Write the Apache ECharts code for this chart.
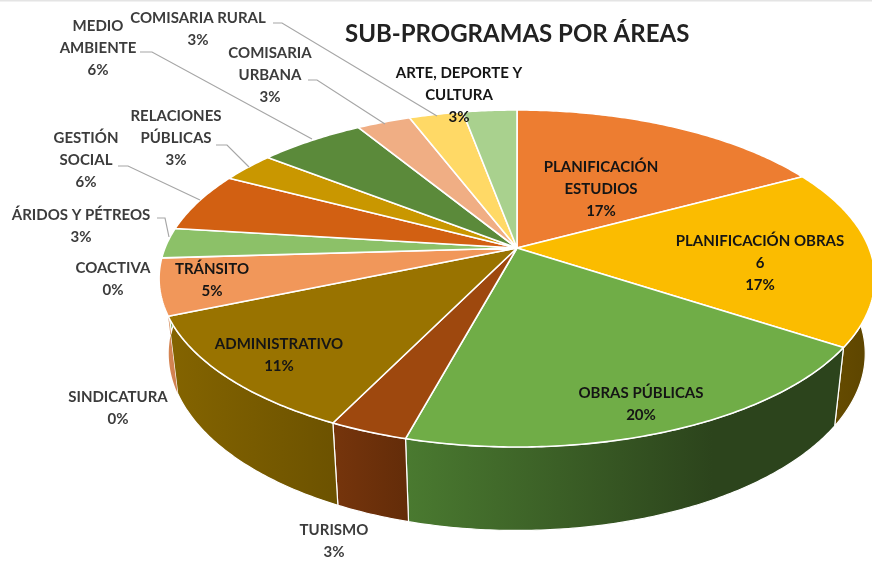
<!DOCTYPE html>
<html>
<head>
<meta charset="utf-8">
<style>html,body{margin:0;padding:0;background:#fff}#c{width:872px;height:566px}</style>
<script src="https://cdn.jsdelivr.net/npm/echarts@6/dist/echarts.min.js"></script>
</head>
<body>
<div id="c"></div>
<script>
const categories = ['PLANIFICACIÓN\nESTUDIOS','PLANIFICACIÓN OBRAS\n6','OBRAS PÚBLICAS','TURISMO','ADMINISTRATIVO','SINDICATURA','COACTIVA','TRÁNSITO','ÁRIDOS Y PÉTREOS','GESTIÓN\nSOCIAL','RELACIONES\nPÚBLICAS','MEDIO\nAMBIENTE','COMISARIA\nURBANA','COMISARIA RURAL','ARTE, DEPORTE Y\nCULTURA'];
const values = [17.1,17.1,19.9,3,11.4,0,0,5.4,2.9,5.7,2.9,5.7,2.9,2.9,2.9];

const faceColors = ['#ED7D31','#FBBC00','#70AD47','#9E480E','#997300','#A5A5A5','#5B9BD5','#F1975A','#8CC168','#D26012','#C99700','#5B8A3A','#F0AE84','#FFD966','#A9D18E'];
const wallColors = [['#8a4a1c','#8a4a1c'],['#6e5200','#5c4400'],['#4a7a30','#2c441c'],['#76350c','#632c09'],['#846400','#6c5200'],['#777','#777'],['#456','#456'],['#da8a55','#d08050'],['#6a9a4c','#6a9a4c'],['#a04a0e','#a04a0e'],['#9a7400','#9a7400'],['#43682b','#43682b'],['#b88560','#b88560'],['#c0a44e','#c0a44e'],['#80a06c','#80a06c']];
// label anchor (centre x, first-line centre y) and optional leader line
const labelLayout = [
 {x:601,y:167,dark:1},{x:760,y:241,dark:1},{x:641,y:393,dark:1},{x:334,y:530},{x:279,y:344,dark:1},
 {x:118,y:397},{x:113,y:268},{x:212,y:269,dark:1},
 {x:81,y:215,line:[[157,218],[165,218],[169,237]]},
 {x:86,y:138,line:[[118,166],[128,166],[200,200]]},
 {x:176,y:116,line:[[216,145],[227,145],[249,167]]},
 {x:98,y:26,line:[[140,52],[152,52],[312,139]]},
 {x:270,y:53,line:[[308,80],[317,80],[385,124]]},
 {x:198,y:18,line:[[273,23],[282,23],[437,116]]},
 {x:459,y:73,dark:1}
];
// perspective model of the pie disc
const pie = {cx:517,cy:248,a:163,b:352,k:0.181,baseX:0.973,baseY:1.05,baseCy:321.5};
const FONT = 'Lato';

const total = values.reduce((s,v)=>s+v,0);
const cumul = [];
values.reduce((s,v,i)=>{cumul[i]=s;return s+v;},0);
function angles(i){return [cumul[i]/total*2*Math.PI,(cumul[i]+values[i])/total*2*Math.PI];}
function topPt(t){const X=Math.sin(t),Y=Math.cos(t),d=1+pie.k*Y;return [pie.cx+pie.b*X/d,pie.cy-pie.a*Y/d];}
function basePt(t){const p=topPt(t);return [pie.cx+(p[0]-pie.cx)*pie.baseX,pie.baseCy+(p[1]-pie.cy)*pie.baseY];}
function arc(i,fn){const [s,e]=angles(i),n=Math.max(2,Math.ceil((e-s)*90)),o=[];for(let j=0;j<=n;j++)o.push(fn(s+(e-s)*j/n));return o;}

function renderWall(params){
  const i=params.dataIndex; if(!values[i])return null;
  const pts=arc(i,topPt).concat(arc(i,basePt).reverse());
  const w=wallColors[i];
  return {type:'polygon',shape:{points:pts},style:{fill:new echarts.graphic.LinearGradient(0,0,1,0,[{offset:0,color:w[0]},{offset:i===2?0.7:1,color:w[1]},{offset:1,color:w[1]}]),stroke:i===7?null:'#fff',lineWidth:1.2}};
}
function renderFace(params){
  const i=params.dataIndex; if(!values[i])return null;
  return {type:'polygon',shape:{points:[[pie.cx,pie.cy]].concat(arc(i,topPt))},style:{fill:faceColors[i],stroke:'#fff',lineWidth:1.6,lineJoin:'round'}};
}
function renderLabel(params){
  const i=params.dataIndex,l=labelLayout[i],kids=[];
  const text=categories[i]+'\n'+Math.round(values[i])+'%';
  if(l.line)kids.push({type:'polyline',shape:{points:l.line},style:{fill:'none',stroke:'#a6a6a6',lineWidth:1.2}});
  kids.push({type:'text',style:{text:text,x:l.x,y:l.y-11,align:'center',verticalAlign:'top',font:'bold 15px '+FONT,lineHeight:22,fill:l.dark?'#151515':'#3c3c3c'}});
  return {type:'group',children:kids};
}
const chart=echarts.init(document.getElementById('c'),null,{renderer:'canvas'});
const seriesBase={type:'custom',coordinateSystem:'none',animation:false,silent:true,data:values.map((v,i)=>[i,v])};
chart.setOption({
  animation:false,
  backgroundColor:'#fff',
  title:{text:'SUB-PROGRAMAS POR ÁREAS',left:340,top:17,textStyle:{fontFamily:FONT,fontWeight:'bold',fontSize:24,color:'#222'}},
  graphic:[{type:'rect',shape:{x:0,y:0,width:872,height:1.5},style:{fill:'#e4e4e4'},silent:true}],
  series:[
    Object.assign({},seriesBase,{name:'walls',z:1,renderItem:renderWall}),
    Object.assign({},seriesBase,{name:'faces',z:2,renderItem:renderFace}),
    Object.assign({},seriesBase,{name:'labels',z:3,renderItem:renderLabel})
  ]
});
</script>
</body>
</html>
